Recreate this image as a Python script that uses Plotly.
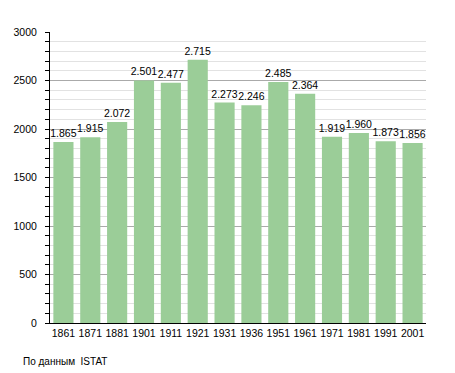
import plotly.graph_objects as go

years = ["1861", "1871", "1881", "1901", "1911", "1921", "1931", "1936", "1951", "1961", "1971", "1981", "1991", "2001"]
population = [1865, 1915, 2072, 2501, 2477, 2715, 2273, 2246, 2485, 2364, 1919, 1960, 1873, 1856]
y_ticks = [0, 500, 1000, 1500, 2000, 2500, 3000]

fig = go.Figure()
fig.add_trace(go.Bar(
    x=years, y=population,
    marker=dict(color="#9bcd98", line=dict(width=0)),
    text=[f"{v:,}".replace(",", ".") for v in population],
    textposition="outside",
    constraintext="none",
    textfont=dict(family="Liberation Sans, Arial", size=10.5, color="black"),
    cliponaxis=False,
))

fig.update_layout(
    width=447, height=365,
    margin=dict(l=42, r=29, t=24, b=50),
    paper_bgcolor="white", plot_bgcolor="white",
    bargap=0.25,
    showlegend=False,
    font=dict(family="Liberation Sans, Arial", size=10, color="black"),
    xaxis=dict(
        showline=True, linecolor="black", linewidth=1,
        ticks="", tickfont=dict(size=10.5),
        showgrid=False, automargin=False,
    ),
    yaxis=dict(
        range=[0, 3000], tickvals=y_ticks,
        showline=True, linecolor="black", linewidth=1,
        ticks="outside", ticklen=4, tickcolor="black",
        ticklabelstandoff=6,
        showgrid=True, gridcolor="#aaaaaa", gridwidth=1,
        minor=dict(dtick=100, showgrid=True, gridcolor="#e2e2e2",
                   ticks="outside", ticklen=4, tickcolor="black"),
        zeroline=False, tickfont=dict(size=10.5), automargin=False,
    ),
    annotations=[dict(
        text="По данным  ISTAT", xref="paper", yref="paper",
        x=-0.077, y=-0.131, xanchor="left", yanchor="middle",
        showarrow=False, font=dict(size=10, color="black"),
    )],
)

fig.write_html("out.html")
